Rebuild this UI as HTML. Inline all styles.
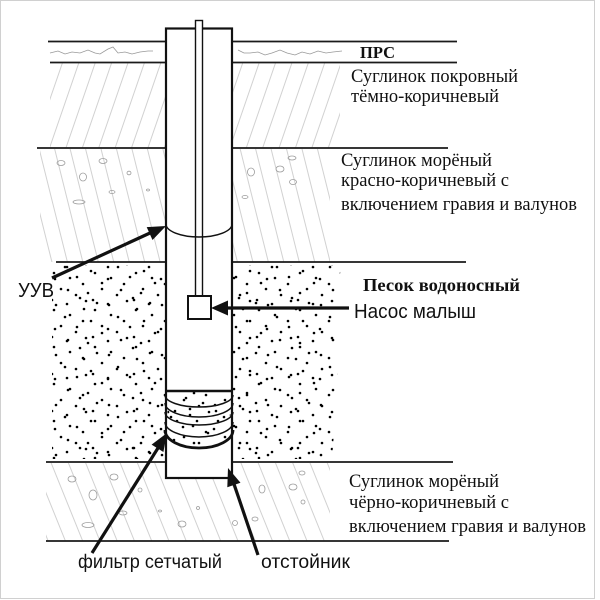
<!DOCTYPE html>
<html><head><meta charset="utf-8"><style>
html,body{margin:0;padding:0;background:#fff;}
svg{display:block;}
.s{font-family:"Liberation Sans","DejaVu Sans",sans-serif;font-size:19px;fill:#111;}
.t{font-family:"Liberation Serif","DejaVu Serif",serif;font-size:19px;fill:#111;}
.b{font-family:"Liberation Serif","DejaVu Serif",serif;font-size:18px;font-weight:bold;fill:#111;}
</style></head><body>
<svg width="600" height="600" viewBox="0 0 600 600" xmlns="http://www.w3.org/2000/svg">
<defs>
<pattern id="hA" patternUnits="userSpaceOnUse" width="15.5" height="40" patternTransform="rotate(19)">
<line x1="2" y1="0" x2="2" y2="40" stroke="#b2b2b2" stroke-width="0.6"/></pattern>
<pattern id="hB" patternUnits="userSpaceOnUse" width="15" height="40" patternTransform="rotate(-14)">
<line x1="2" y1="0" x2="2" y2="40" stroke="#b2b2b2" stroke-width="0.6"/></pattern>
<pattern id="hC" patternUnits="userSpaceOnUse" width="16" height="40" patternTransform="rotate(-22)">
<line x1="2" y1="0" x2="2" y2="40" stroke="#b2b2b2" stroke-width="0.6"/></pattern>
<pattern id="dots" patternUnits="userSpaceOnUse" width="53" height="50">
<g fill="#000">
<circle cx="3" cy="5" r="1.3"/><circle cx="31" cy="9" r="1.3"/><circle cx="44" cy="3" r="1.3"/>
<circle cx="12" cy="17" r="1.3"/><circle cx="38" cy="21" r="1.3"/>
<circle cx="2" cy="29" r="1.3"/><circle cx="24" cy="27" r="1.3"/><circle cx="49" cy="33" r="1.3"/>
<circle cx="15" cy="40" r="1.3"/><circle cx="35" cy="43" r="1.3"/><circle cx="27" cy="48" r="1.3"/>
</g></pattern>
<pattern id="dots2" patternUnits="userSpaceOnUse" width="41" height="37" patternTransform="translate(7,11)">
<g fill="#000">
<circle cx="6" cy="3" r="1.3"/><circle cx="22" cy="8" r="1.3"/><circle cx="35" cy="14" r="1.3"/>
<circle cx="13" cy="19" r="1.3"/><circle cx="28" cy="25" r="1.3"/><circle cx="4" cy="30" r="1.3"/>
<circle cx="19" cy="34" r="1.3"/><circle cx="38" cy="31" r="1.3"/>
</g></pattern>
</defs>

<rect x="0.5" y="0.5" width="594" height="598" fill="#fff" stroke="#d0d0d0" stroke-width="1"/>

<!-- hatching: cover loam -->
<rect x="50" y="63" width="116" height="85" fill="url(#hA)"/>
<rect x="232" y="63" width="108" height="85" fill="url(#hA)"/>
<!-- upper moraine -->
<rect x="40" y="149" width="126" height="113" fill="url(#hB)"/>
<rect x="232" y="149" width="98" height="113" fill="url(#hB)"/>
<!-- lower moraine -->
<rect x="46" y="463" width="284" height="78" fill="url(#hC)"/>

<!-- sand dots -->
<rect x="52" y="265" width="114" height="194" fill="url(#dots)"/>
<rect x="52" y="265" width="114" height="194" fill="url(#dots2)"/>
<polygon points="233,265 341,265 335,320 338,380 332,459 233,459" fill="url(#dots)"/>
<polygon points="233,265 341,265 335,320 338,380 332,459 233,459" fill="url(#dots2)"/>

<!-- pebbles -->
<g fill="none" stroke="#9c9c9c" stroke-width="0.8">
<ellipse cx="61" cy="163" rx="4" ry="2.5"/><ellipse cx="83" cy="177" rx="3.5" ry="4"/>
<ellipse cx="103" cy="161" rx="4" ry="2.5"/><ellipse cx="129" cy="173" rx="2" ry="1.8"/>
<ellipse cx="112" cy="192" rx="3" ry="1.5"/><ellipse cx="79" cy="202" rx="6" ry="2"/>
<ellipse cx="148" cy="190" rx="1.5" ry="1"/>
<ellipse cx="251" cy="172" rx="3.5" ry="4"/><ellipse cx="280" cy="169" rx="4" ry="3"/>
<ellipse cx="292" cy="158" rx="4" ry="2"/><ellipse cx="293" cy="182" rx="3.5" ry="2.5"/>
<ellipse cx="245" cy="197" rx="3" ry="1.5"/>
<ellipse cx="72" cy="479" rx="4" ry="3"/><ellipse cx="114" cy="477" rx="4" ry="3"/>
<ellipse cx="93" cy="495" rx="4" ry="5"/><ellipse cx="140" cy="490" rx="2" ry="2"/>
<ellipse cx="123" cy="513" rx="4" ry="2"/><ellipse cx="88" cy="525" rx="6" ry="2.5"/>
<ellipse cx="182" cy="524" rx="4" ry="3"/><ellipse cx="198" cy="508" rx="1.5" ry="1.5"/>
<ellipse cx="160" cy="511" rx="1.5" ry="1"/><ellipse cx="235" cy="523" rx="2.5" ry="2.5"/>
<ellipse cx="255" cy="519" rx="3" ry="2"/><ellipse cx="262" cy="489" rx="3" ry="4"/>
<ellipse cx="293" cy="487" rx="4" ry="3"/><ellipse cx="302" cy="473" rx="3" ry="2"/>
<ellipse cx="303" cy="502" rx="2" ry="2"/>
</g>

<!-- PRS squiggles -->
<polyline fill="none" stroke="#999" stroke-width="0.8" points="50,53 58,51 65,54 72,52 80,53 88,50 95,53 100,54 108,49 113,47 118,53 125,52 132,54 140,52 148,51 153,51"/>
<polyline fill="none" stroke="#999" stroke-width="0.8" points="238,50 244,53 250,53 258,52 265,55 272,53 280,50 287,53 295,55 302,52 310,54 318,51 326,53 333,52 342,51"/>

<!-- horizontal layer lines -->
<g stroke="#1a1a1a" stroke-width="1.8">
<line x1="48" y1="41.5" x2="166" y2="41.5"/><line x1="232" y1="41.5" x2="457" y2="41.5"/>
<line x1="50" y1="62.5" x2="166" y2="62.5"/><line x1="232" y1="62.5" x2="457" y2="62.5"/>
<line x1="37" y1="148" x2="166" y2="148"/><line x1="232" y1="148" x2="448" y2="148"/>
<line x1="56" y1="262" x2="166" y2="262"/><line x1="232" y1="262" x2="466" y2="262"/>
<line x1="46" y1="462" x2="166" y2="462"/><line x1="232" y1="462" x2="453" y2="462"/>
<line x1="46" y1="541" x2="449" y2="541"/>
</g>

<!-- casing -->
<rect x="166" y="28.5" width="66" height="449.5" fill="#fff" stroke="#111" stroke-width="2.2"/>
<!-- filter dots -->
<rect x="167.5" y="392" width="63" height="54" fill="url(#dots)"/>
<rect x="167.5" y="392" width="63" height="54" fill="url(#dots2)"/>
<!-- rod -->
<rect x="195.5" y="20.5" width="7" height="275.5" fill="#fff" stroke="#111" stroke-width="1.4"/>
<!-- pump -->
<rect x="188" y="296" width="23" height="23" fill="#fff" stroke="#111" stroke-width="2"/>
<!-- water level -->
<path d="M166,224 A33,13 0 0 0 232,224" fill="none" stroke="#111" stroke-width="1.4"/>
<!-- filter -->
<line x1="166" y1="391" x2="232" y2="391" stroke="#111" stroke-width="2.4"/>
<g fill="none" stroke="#111" stroke-width="1.5">
<path d="M165,395 A34,12 0 0 0 233,395"/>
<path d="M165,403 A34,14 0 0 0 233,403"/>
<path d="M165,412 A34,13 0 0 0 233,412"/>
<path d="M165,422 A34,15 0 0 0 233,422"/>
</g>
<path d="M165,430 A34,18 0 0 0 233,430" fill="none" stroke="#111" stroke-width="2.8"/>

<!-- arrows -->
<g stroke="#111" stroke-width="3.2" fill="none">
<line x1="52" y1="278" x2="150" y2="233"/>
<line x1="349" y1="308" x2="226" y2="308"/>
<line x1="92" y1="553" x2="158" y2="448"/>
<line x1="258" y1="555" x2="234" y2="484"/>
</g>
<g fill="#111">
<polygon points="166,226 152.5,240 146.7,227.1"/>
<polygon points="211,308 228,300.5 228,315.5"/>
<polygon points="167,433 163.4,452 151.6,444.6"/>
<polygon points="228,468 240.5,482.7 227.3,487.3"/>
</g>

<!-- labels -->
<text class="s" x="18" y="297" textLength="36" lengthAdjust="spacingAndGlyphs" style="font-size:20px">УУВ</text>
<text class="s" x="354" y="318" textLength="122" lengthAdjust="spacingAndGlyphs" style="font-size:20px">Насос малыш</text>
<text class="s" x="78" y="568" textLength="144" lengthAdjust="spacingAndGlyphs">фильтр сетчатый</text>
<text class="s" x="261" y="568" textLength="89" lengthAdjust="spacingAndGlyphs">отстойник</text>

<text class="b" x="360" y="58" textLength="35" lengthAdjust="spacingAndGlyphs" style="font-size:17px">ПРС</text>
<text class="t" x="351" y="82" textLength="167" lengthAdjust="spacingAndGlyphs">Суглинок покровный</text>
<text class="t" x="351" y="102" textLength="148" lengthAdjust="spacingAndGlyphs">тёмно-коричневый</text>
<text class="t" x="341" y="166" textLength="151" lengthAdjust="spacingAndGlyphs">Суглинок морёный</text>
<text class="t" x="341" y="186" textLength="168" lengthAdjust="spacingAndGlyphs">красно-коричневый с</text>
<text class="t" x="341" y="210" textLength="236" lengthAdjust="spacingAndGlyphs">включением гравия и валунов</text>
<text class="b" x="363" y="291" textLength="157" lengthAdjust="spacingAndGlyphs">Песок водоносный</text>
<text class="t" x="349" y="487" textLength="150" lengthAdjust="spacingAndGlyphs">Суглинок морёный</text>
<text class="t" x="349" y="508" textLength="160" lengthAdjust="spacingAndGlyphs">чёрно-коричневый с</text>
<text class="t" x="349" y="532" textLength="237" lengthAdjust="spacingAndGlyphs">включением гравия и валунов</text>
</svg>
</body></html>
